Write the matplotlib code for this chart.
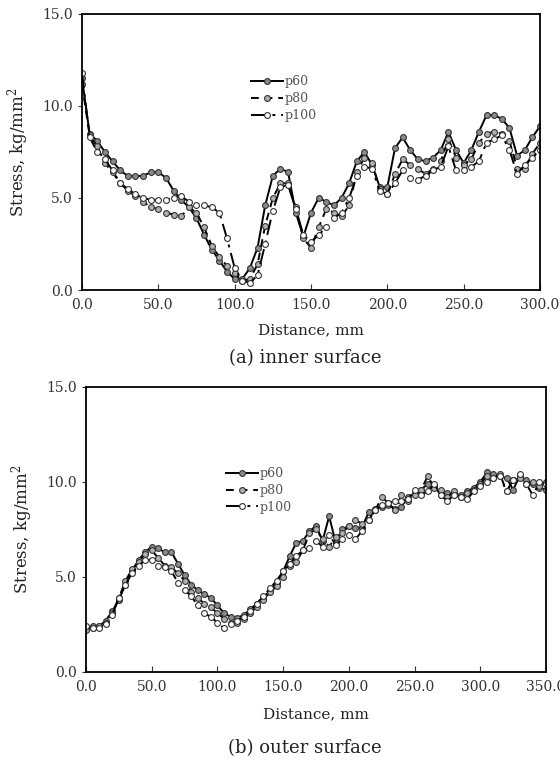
import numpy as np
import matplotlib
matplotlib.use('Agg')
import matplotlib.pyplot as plt

plt.rcParams['font.family'] = 'DejaVu Serif'
plt.rcParams['mathtext.fontset'] = 'dejavuserif'

# (a) inner surface, distance every 5 mm from 0 to 300
dist_in = list(range(0, 301, 5))
inner_p60 = [11.5, 8.5, 8.1, 7.5, 7.0, 6.5, 6.2, 6.2, 6.2, 6.4, 6.4, 6.1, 5.4, 4.9, 4.5, 3.9,
             3.0, 2.2, 1.6, 1.0, 0.6, 0.6, 1.2, 2.3, 4.6, 6.2, 6.6, 6.4, 4.2, 2.9, 4.2, 5.0,
             4.8, 4.6, 5.0, 5.8, 7.0, 7.5, 6.8, 5.6, 5.6, 7.7, 8.3, 7.6, 7.1, 7.0, 7.2, 7.6,
             8.6, 7.6, 6.9, 7.6, 8.6, 9.5, 9.5, 9.3, 8.8, 7.3, 7.6, 8.3, 8.9]
inner_p80 = [11.2, 8.4, 7.8, 6.9, 6.4, 5.8, 5.4, 5.1, 4.8, 4.5, 4.4, 4.2, 4.1, 4.0, 4.5, 4.2,
             3.4, 2.4, 1.8, 1.3, 0.9, 0.5, 0.6, 1.4, 3.5, 5.0, 5.8, 5.8, 4.5, 2.8, 2.3, 3.4,
             4.4, 4.2, 4.0, 4.6, 6.4, 7.2, 6.9, 5.5, 5.2, 6.3, 7.1, 6.8, 6.6, 6.3, 6.6, 7.0,
             8.2, 7.2, 6.8, 7.1, 8.0, 8.5, 8.6, 8.5, 8.1, 6.6, 6.6, 7.4, 8.0]
inner_p100 = [11.8, 8.3, 7.5, 7.1, 6.5, 5.8, 5.5, 5.2, 5.0, 4.9, 4.9, 4.9, 5.0, 5.1, 4.8, 4.6,
              4.6, 4.5, 4.2, 2.8, 1.2, 0.5, 0.4, 0.8, 2.5, 4.3, 5.6, 5.7, 4.4, 3.0, 2.6, 3.0,
              3.4, 3.9, 4.2, 5.0, 6.2, 6.7, 6.6, 5.4, 5.2, 5.8, 6.5, 6.1, 6.0, 6.2, 6.5, 6.7,
              7.8, 6.5, 6.5, 6.7, 7.0, 8.0, 8.2, 8.4, 7.6, 6.3, 6.8, 7.2, 7.6]

# (b) outer surface, distance every 5 mm from 0 to 350
dist_out = list(range(0, 351, 5))
outer_p60 = [2.3, 2.4, 2.4, 2.7, 3.2, 3.8, 4.6, 5.3, 5.9, 6.3, 6.6, 6.5, 6.3, 6.3, 5.7, 5.1,
             4.6, 4.3, 4.1, 3.9, 3.5, 3.1, 2.9, 2.85, 3.0, 3.3, 3.6, 3.9, 4.3, 4.7, 5.3, 6.1,
             6.8, 6.9, 7.4, 7.7, 6.9, 8.2, 6.8, 7.5, 7.7, 7.6, 7.6, 8.4, 8.6, 8.7, 8.8, 8.6,
             8.7, 9.2, 9.4, 9.6, 9.9, 9.8, 9.3, 9.4, 9.4, 9.3, 9.5, 9.7, 10.0, 10.5, 10.4, 10.3,
             10.2, 9.6, 10.3, 10.1, 9.9, 9.7, 9.6]
outer_p80 = [2.2, 2.3, 2.4, 2.6, 3.1, 3.9, 4.8, 5.4, 5.8, 6.2, 6.4, 6.0, 5.6, 5.5, 5.2, 4.8,
             4.2, 3.9, 3.6, 3.4, 3.1, 2.8, 2.6, 2.6, 2.8, 3.1, 3.4, 3.8, 4.2, 4.5, 5.0, 5.6,
             5.8, 6.4, 7.3, 7.5, 7.0, 6.6, 7.1, 7.3, 7.7, 8.0, 7.8, 8.0, 8.5, 9.2, 8.9, 8.5,
             9.3, 9.0, 9.3, 9.6, 10.3, 9.7, 9.6, 9.2, 9.5, 9.2, 9.4, 9.6, 9.9, 10.3, 10.2, 10.4,
             9.5, 10.1, 10.2, 9.9, 10.0, 9.8, 10.0]
outer_p100 = [2.4, 2.3, 2.3, 2.5, 3.0, 3.9, 4.6, 5.2, 5.6, 5.9, 5.9, 5.6, 5.5, 5.3, 4.7, 4.3,
              4.0, 3.5, 3.1, 2.9, 2.6, 2.3, 2.5, 2.7, 2.9, 3.2, 3.6, 4.0, 4.4, 4.8, 5.3, 5.7,
              6.1, 6.4, 6.5, 6.9, 6.6, 7.2, 6.7, 7.0, 7.2, 7.0, 7.4, 8.0, 8.5, 8.8, 8.9, 9.0,
              9.0, 9.1, 9.6, 9.3, 9.5, 9.9, 9.3, 9.0, 9.3, 9.2, 9.1, 9.5, 9.8, 10.0, 10.2, 10.3,
              9.5, 10.1, 10.4, 9.9, 9.3, 10.0, 9.9]

labels = ['p60', 'p80', 'p100']
styles = [dict(ls='-', mfc='#8a8a8a'),
          dict(ls=(0, (4, 3)), mfc='#b0b0b0'),
          dict(ls=(0, (8, 3, 1.5, 3)), mfc='white')]

fig = plt.figure(figsize=(5.6, 7.63), dpi=100)
ax1 = fig.add_axes([0.1464, 0.6199, 0.8179, 0.3618])
ax2 = fig.add_axes([0.1536, 0.1193, 0.8214, 0.3735])


def draw(ax, x, series, xmax, xticks, leg_anchor, lpad):
    for y, lab, st in zip(series, labels, styles):
        ax.plot(x, y, color='black', lw=1.4, ls=st['ls'], marker='o', ms=4.2,
                mfc=st['mfc'], mec='#333333', mew=0.8, label=lab)
    ax.set_xlim(0, xmax)
    ax.set_ylim(0, 15)
    ax.set_xticks(xticks)
    ax.set_xticklabels(['%.1f' % t for t in xticks])
    ax.set_yticks([0, 5, 10, 15])
    ax.set_yticklabels(['0.0', '5.0', '10.0', '15.0'])
    ax.tick_params(axis='x', direction='in', length=4, labelsize=10, colors='#333333', pad=6)
    ax.tick_params(axis='y', direction='out', length=3, labelsize=10, colors='#333333')
    for sp in ax.spines.values():
        sp.set_linewidth(1.3)
    ax.set_xlabel('Distance, mm', fontsize=11, color='#222222', labelpad=lpad)
    ax.set_ylabel('Stress, kg/mm$^2$', fontsize=12, color='#222222', labelpad=8)
    leg = ax.legend(loc='upper left', bbox_to_anchor=leg_anchor, frameon=False,
                    fontsize=9, handlelength=2.6, handletextpad=0.1, labelspacing=0.3,
                    borderpad=0)
    for t in leg.get_texts():
        t.set_color('#555555')


draw(ax1, dist_in, [inner_p60, inner_p80, inner_p100], 300,
     [0, 50, 100, 150, 200, 250, 300], (0.355, 0.80), 8)
draw(ax2, dist_out, [outer_p60, outer_p80, outer_p100], 350,
     [0, 50, 100, 150, 200, 250, 300, 350], (0.29, 0.74), 9)

fig.text(0.545, 0.531, '(a) inner surface', ha='center', va='center', fontsize=13, color='#222222')
fig.text(0.545, 0.020, '(b) outer surface', ha='center', va='center', fontsize=13, color='#222222')

fig.savefig('out.png', dpi=100)
